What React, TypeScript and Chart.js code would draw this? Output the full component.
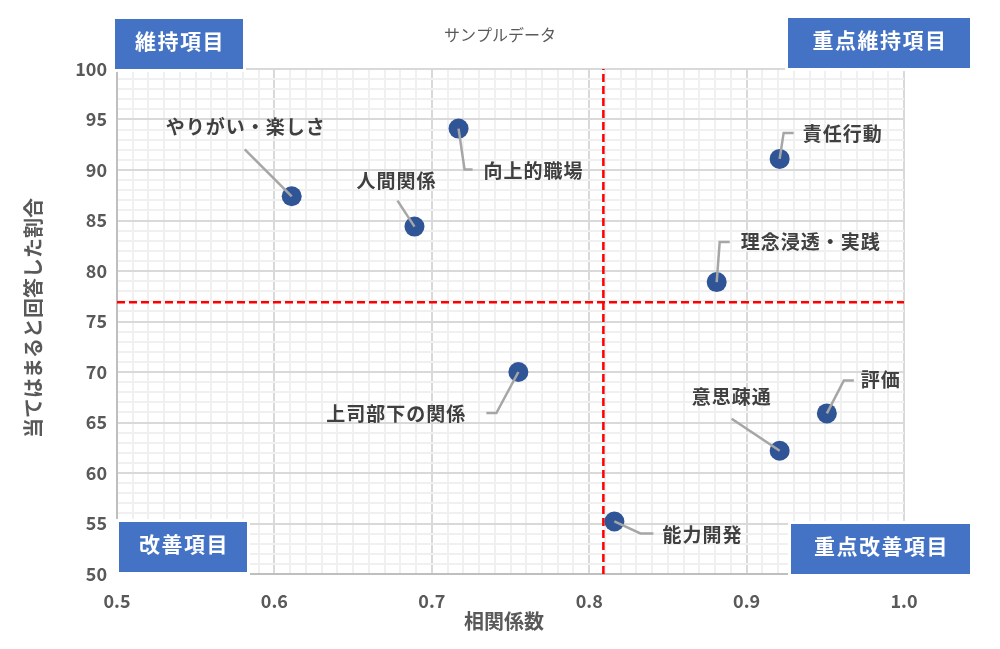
import React, { useEffect, useRef } from 'react';
import { Chart, registerables } from 'chart.js';

Chart.register(...registerables);

// ---- data ----
const categories = [
  'やりがい・楽しさ',
  '人間関係',
  '向上的職場',
  '責任行動',
  '理念浸透・実践',
  '上司部下の関係',
  '評価',
  '意思疎通',
  '能力開発',
];
const correlations = [0.611, 0.689, 0.717, 0.921, 0.881, 0.755, 0.951, 0.921, 0.816];
const agreeRates = [87.4, 84.4, 94.1, 91.1, 78.9, 70.0, 65.9, 62.2, 55.2];
const avgCorrelation = 0.809;
const avgAgreeRate = 76.9;
const quadrantNames = ['維持項目', '重点維持項目', '改善項目', '重点改善項目'];
const chartTitle = 'サンプルデータ';
const xAxisTitle = '相関係数';
const yAxisTitle = '当てはまると回答した割合';

// ---- label layout (pixel offsets from each point) ----
type Layout = { dx: number; dy: number; path: [number, number][] };
const labelLayout: Layout[] = [
  { dx: -46, dy: -69, path: [[-47, -47]] },
  { dx: -18, dy: -46, path: [[-17, -26]] },
  { dx: 75, dy: 42, path: [[6, 41], [14, 41]] },
  { dx: 63, dy: -25, path: [[4, -26], [14, -26]] },
  { dx: 94, dy: -40, path: [[3, -40], [13, -40]] },
  { dx: -122, dy: 42, path: [[-22, 41], [-32, 41]] },
  { dx: 54, dy: -34, path: [[17, -33], [27, -33]] },
  { dx: -48, dy: -54, path: [[-48, -32]] },
  { dx: 88, dy: 13, path: [[26, 12], [39, 12]] },
];

const quadrantBoxes = [
  { x: 115, y: 19, w: 128, h: 50 },
  { x: 788, y: 18, w: 182, h: 50 },
  { x: 119, y: 522, w: 128, h: 50 },
  { x: 791, y: 524, w: 179, h: 50 },
];

const FONT = '"Noto Sans CJK JP", "Noto Sans", sans-serif';

const isMultiple = (v: number, step: number) => {
  const r = v / step;
  return Math.abs(r - Math.round(r)) < 1e-6;
};

const overlayPlugin = {
  id: 'overlay',
  afterDatasetsDraw(chart: any) {
    const { ctx } = chart;
    const xs = chart.scales.x;
    const ys = chart.scales.y;
    ctx.save();
    categories.forEach((name, i) => {
      const px = xs.getPixelForValue(correlations[i]);
      const py = ys.getPixelForValue(agreeRates[i]);
      const L = labelLayout[i];
      ctx.strokeStyle = '#a6a6a6';
      ctx.lineWidth = 2.5;
      ctx.beginPath();
      ctx.moveTo(px, py);
      L.path.forEach(([dx, dy]) => ctx.lineTo(px + dx, py + dy));
      ctx.stroke();
      ctx.font = `bold 19px ${FONT}`;
      ctx.fillStyle = '#404040';
      ctx.textAlign = 'center';
      ctx.textBaseline = 'middle';
      (ctx as any).letterSpacing = '1px';
      ctx.fillText(name, px + L.dx, py + L.dy);
    });
    ctx.restore();
  },
  afterDraw(chart: any) {
    const { ctx } = chart;
    ctx.save();
    // quadrant boxes
    quadrantBoxes.forEach((b, i) => {
      ctx.fillStyle = '#ffffff';
      ctx.fillRect(b.x - 3, b.y - 3, b.w + 6, b.h + 6);
      ctx.fillStyle = '#4472c4';
      ctx.fillRect(b.x, b.y, b.w, b.h);
      ctx.font = `bold 21px ${FONT}`;
      (ctx as any).letterSpacing = '1.5px';
      ctx.fillStyle = '#ffffff';
      ctx.textAlign = 'center';
      ctx.textBaseline = 'middle';
      ctx.fillText(quadrantNames[i], b.x + b.w / 2 + 1, b.y + 22);
    });
    (ctx as any).letterSpacing = '0px';
    // title
    ctx.font = `16px ${FONT}`;
    ctx.fillStyle = '#595959';
    ctx.textAlign = 'center';
    ctx.textBaseline = 'middle';
    ctx.fillText(chartTitle, 500, 35);
    // axis titles
    ctx.font = `bold 20px ${FONT}`;
    ctx.fillText(xAxisTitle, 504, 621);
    ctx.translate(33, 318);
    ctx.rotate(-Math.PI / 2);
    ctx.fillText(yAxisTitle, 0, 0);
    ctx.restore();
  },
};

export default function App() {
  const ref = useRef<HTMLCanvasElement | null>(null);
  useEffect(() => {
    if (!ref.current) return;
    const chart = new Chart(ref.current, {
      type: 'scatter',
      data: {
        datasets: [
          {
            type: 'line',
            data: [
              { x: avgCorrelation, y: 50 },
              { x: avgCorrelation, y: 100 },
            ],
            borderColor: '#ff0000',
            borderWidth: 2.5,
            borderDash: [8, 4],
            pointRadius: 0,
            order: 2,
          } as any,
          {
            type: 'line',
            data: [
              { x: 0.5, y: avgAgreeRate },
              { x: 1.0, y: avgAgreeRate },
            ],
            borderColor: '#ff0000',
            borderWidth: 2.5,
            borderDash: [8, 4],
            pointRadius: 0,
            order: 2,
          } as any,
          {
            data: categories.map((_, i) => ({ x: correlations[i], y: agreeRates[i] })),
            backgroundColor: '#2f5597',
            borderColor: '#2f5597',
            borderWidth: 0,
            pointRadius: 10,
            order: 1,
          },
        ],
      },
      options: {
        animation: false,
        responsive: true,
        maintainAspectRatio: false,
        layout: { padding: { top: 69, right: 96, left: 0, bottom: 0 } },
        plugins: {
          legend: { display: false },
          tooltip: { enabled: false },
          title: { display: false },
        },
        scales: {
          x: {
            type: 'linear',
            min: 0.5,
            max: 1.0,
            afterFit: (s: any) => {
              s.height = 75;
            },
            ticks: {
              stepSize: 0.01,
              autoSkip: false,
              maxRotation: 0,
              padding: 16,
              color: '#595959',
              font: { family: FONT, size: 18, weight: 'bold' },
              callback: (v: any) => (isMultiple(Number(v), 0.1) ? Number(v).toFixed(1) : ''),
            },
            grid: {
              drawTicks: false,
              color: (c: any) => (isMultiple(c.tick.value, 0.1) ? '#d9d9d9' : '#f0f0f0'),
              lineWidth: 2,
            },
            border: { color: '#bfbfbf', width: 2 },
          },
          y: {
            type: 'linear',
            min: 50,
            max: 100,
            afterFit: (s: any) => {
              s.width = 117;
            },
            ticks: {
              stepSize: 1,
              autoSkip: false,
              padding: 10,
              color: '#595959',
              font: { family: FONT, size: 18, weight: 'bold' },
              callback: (v: any) => (isMultiple(Number(v), 5) ? String(v) : ''),
            },
            grid: {
              drawTicks: false,
              color: (c: any) => (isMultiple(c.tick.value, 5) ? '#d9d9d9' : '#f0f0f0'),
              lineWidth: 2,
            },
            border: { color: '#bfbfbf', width: 2 },
          },
        },
      },
      plugins: [overlayPlugin],
    } as any);
    return () => chart.destroy();
  }, []);
  return (
    <div style={{ position: 'absolute', left: 0, top: 0, width: 1000, height: 649 }}>
      <canvas ref={ref} />
    </div>
  );
}
